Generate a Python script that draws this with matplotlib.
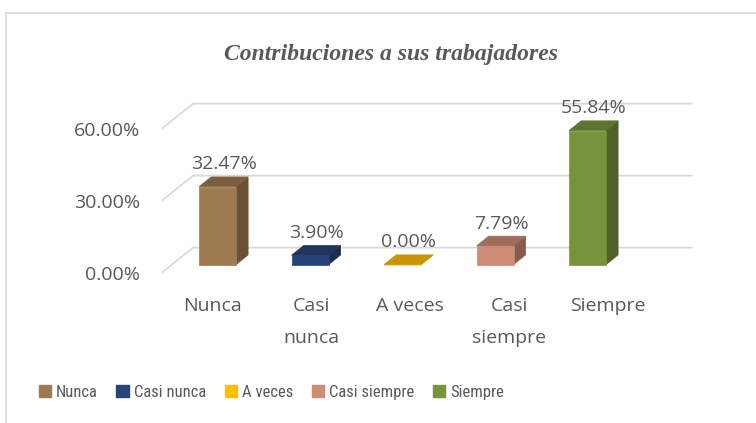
"""Contribuciones a sus trabajadores - 3D-style column chart (Excel look)."""

import matplotlib

matplotlib.use("Agg")

import matplotlib.pyplot as plt
from matplotlib.colors import to_rgb
from matplotlib.lines import Line2D
from matplotlib.patches import Patch, Polygon

# ---- data -------------------------------------------------------------
categories = ["Nunca", "Casi nunca", "A veces", "Casi siempre", "Siempre"]
tick_text = ["Nunca", "Casi\nnunca", "A veces", "Casi\nsiempre", "Siempre"]
values = [32.47, 3.90, 0.00, 7.79, 55.84]
value_labels = ["32.47%", "3.90%", "0.00%", "7.79%", "55.84%"]
bar_colors = ["#9E7A50", "#264478", "#FFC000", "#CC8C76", "#77933C"]
y_ticks = [0, 30, 60]
y_tick_labels = ["0.00%", "30.00%", "60.00%"]
title = "Contribuciones a sus trabajadores"

# ---- style ------------------------------------------------------------
TEXT = "#595959"
GRID = "#D9D9D9"
FONT = ["Open Sans", "DejaVu Sans"]
NARROW = ["Noto Sans Condensed", "DejaVu Sans Condensed", "Roboto Condensed",
          "Lato"]
plt.rcParams["font.family"] = FONT

# oblique projection of the depth axis (in data units)
DX, DY = 0.335, 10.4
Z_FRONT, Z_BACK = 0.32, 0.71
BAR_W = 0.40
X_LEFT, X_RIGHT = -0.493, 4.91


def proj(x, y, z):
    return (x + z * DX, y + z * DY)


def shade(color, f):
    r, g, b = to_rgb(color)
    return (r * f, g * f, b * f)


fig = plt.figure(figsize=(7.56, 4.23), dpi=100)
ax = fig.add_axes([0.2143, 0.3215, 0.7464, 0.4823])
ax.set_xlim(X_LEFT, X_LEFT + 0.7464 * 756 / 92.5)
ax.set_ylim(-6, 79)

# walls / gridlines
for v in y_ticks:
    x0, y0 = proj(X_LEFT, v, 0)
    x1, y1 = proj(X_LEFT, v, 1)
    x2, y2 = proj(X_RIGHT, v, 1)
    ax.plot([x0, x1, x2], [y0, y1, y2], color=GRID, lw=1.3,
            solid_capstyle="butt", clip_on=False, zorder=1)

# bars
for i, (v, c) in enumerate(zip(values, bar_colors)):
    xl, xr = i - BAR_W / 2, i + BAR_W / 2
    front = [proj(xl, 0, Z_FRONT), proj(xr, 0, Z_FRONT),
             proj(xr, v, Z_FRONT), proj(xl, v, Z_FRONT)]
    top = [proj(xl, v, Z_FRONT), proj(xr, v, Z_FRONT),
           proj(xr, v, Z_BACK), proj(xl, v, Z_BACK)]
    side = [proj(xr, 0, Z_FRONT), proj(xr, 0, Z_BACK),
            proj(xr, v, Z_BACK), proj(xr, v, Z_FRONT)]
    for pts, col in ((side, shade(c, 0.66)), (front, c), (top, shade(c, 0.78))):
        ax.add_patch(Polygon(pts, closed=True, facecolor=col, edgecolor=col,
                             lw=0.5, clip_on=False, zorder=3))
    lx, ly = proj(i, v, (Z_FRONT + Z_BACK) / 2)
    ax.annotate(value_labels[i], (lx, ly), xytext=(0, 6), textcoords="offset points",
                ha="center", va="bottom", fontsize=14, color=TEXT, zorder=4)

# axes cosmetics
for s in ax.spines.values():
    s.set_visible(False)
ax.set_yticks(y_ticks)
ax.set_yticklabels(y_tick_labels, fontsize=14, color=TEXT)
ax.tick_params(axis="y", length=0, pad=16)
ax.set_xticks([i * 1.07 + 0.05 for i in range(len(categories))])
ax.set_xticklabels(tick_text, fontsize=14, color=TEXT, linespacing=2.05)
ax.tick_params(axis="x", length=0, pad=7)

fig.suptitle(title, x=0.517, y=0.895, fontsize=17, fontweight="bold",
             fontstyle="italic", family="Liberation Serif", color=TEXT)

handles = [Patch(facecolor=c, edgecolor=c) for c in bar_colors]
fig.legend(handles, categories, loc="center", bbox_to_anchor=(0.359, 0.073),
           ncol=5, frameon=False,
           prop={"family": NARROW, "size": 12, "stretch": "condensed"},
           handlelength=0.75, handleheight=0.75, handletextpad=0.3,
           columnspacing=1.1, labelcolor=TEXT)

# chart area border (partially cropped)
fig.add_artist(Line2D([6 / 756, 1], [1 - 13 / 423, 1 - 13 / 423],
                      transform=fig.transFigure, color=GRID, lw=1.2))
fig.add_artist(Line2D([6 / 756, 6 / 756], [0, 1 - 13 / 423],
                      transform=fig.transFigure, color=GRID, lw=1.2))

fig.savefig("out.png", dpi=100, facecolor="white")
